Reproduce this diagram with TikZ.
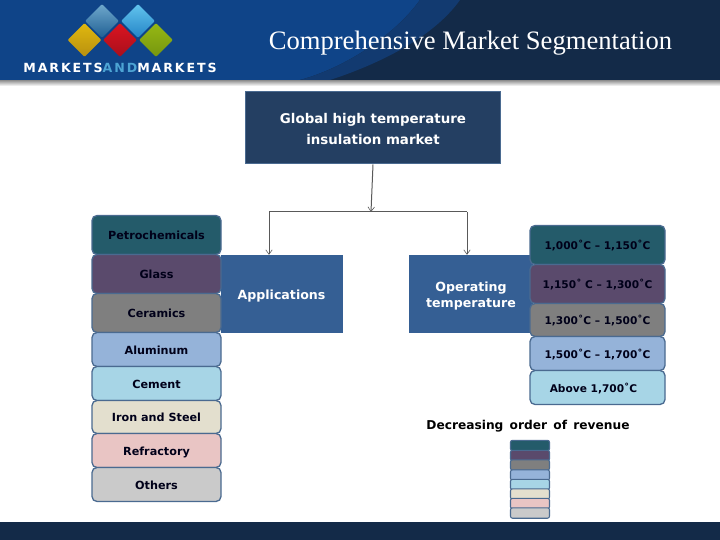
\documentclass[tikz,border=0pt]{standalone}
\usepackage{fontspec}
\setsansfont{DejaVu Sans}
\setmainfont{Liberation Serif}
\usetikzlibrary{arrows.meta,shapes.geometric}
\definecolor{hblue}{HTML}{0F4488}
\definecolor{hmid}{HTML}{123A70}
\definecolor{hdark}{HTML}{132A48}
\definecolor{navy}{HTML}{243F62}
\definecolor{midblue}{HTML}{355F94}
\definecolor{edge}{HTML}{4A6A90}
\definecolor{cA}{HTML}{245B6A}
\definecolor{cB}{HTML}{5A4A6C}
\definecolor{cC}{HTML}{7F7F7F}
\definecolor{cD}{HTML}{95B3D9}
\definecolor{cE}{HTML}{A7D5E6}
\definecolor{cF}{HTML}{E3DFCE}
\definecolor{cG}{HTML}{E9C5C4}
\definecolor{cH}{HTML}{CACACA}
\definecolor{gemAt}{HTML}{6FA8CC}
\definecolor{gemAb}{HTML}{1F5F93}
\definecolor{gemBt}{HTML}{62C4EE}
\definecolor{gemBb}{HTML}{2484C6}
\definecolor{gemCt}{HTML}{E0B80F}
\definecolor{gemCb}{HTML}{B8900F}
\definecolor{gemDt}{HTML}{DC1420}
\definecolor{gemDb}{HTML}{A80F1C}
\definecolor{gemEt}{HTML}{96B814}
\definecolor{gemEb}{HTML}{76960F}
\tikzset{
  seg/.style={draw=edge,line width=1.3pt,rounded corners=5pt,minimum width=129pt,inner sep=0pt,
    text height=11.6pt,text depth=2pt,
    font=\sffamily\bfseries\fontsize{11.2}{12}\selectfont,text=black!90!blue},
  temp/.style={seg,minimum width=135pt,text height=11.2pt,text depth=2pt,
    font=\sffamily\bfseries\fontsize{10.6}{11}\selectfont},
  head/.style={fill=midblue,inner sep=0pt,text=white,align=center,
    font=\sffamily\bfseries\fontsize{12.6}{15.5}\selectfont},
  conn/.style={draw=black!65,line width=1pt},
  arr/.style={conn,-{Straight Barb[length=4.5pt,width=6.5pt,line width=0.6pt]}},
  mini/.style={draw=edge,line width=1.1pt,rounded corners=2pt,minimum width=39pt,minimum height=10.4pt,inner sep=0pt},
  gem/.style={diamond,minimum width=34pt,minimum height=34pt,inner sep=0pt,rounded corners=1pt}
}
\begin{document}
\begin{tikzpicture}[x=1pt,y=-1pt]
\useasboundingbox (0,0) rectangle (720,540);
\fill[white] (0,0) rectangle (720,540);
% header
\shade[top color=black!45,bottom color=white] (0,80) rectangle (720,86);
\fill[hblue] (0,0) rectangle (720,80);
\fill[hdark] (720,0) -- (420,0) .. controls (395,35) and (345,68) .. (300,80) -- (720,80) -- cycle;
\fill[hmid] (420,0) .. controls (395,35) and (345,68) .. (300,80) -- (330,80) .. controls (385,62) and (435,35) .. (460,0) -- cycle;
% logo
\node[gem,top color=gemAt,bottom color=gemAb] (g1) at (102,21) {};
\node[gem,top color=gemBt,bottom color=gemBb] (g2) at (138,21) {};
\node[gem,top color=gemCt,bottom color=gemCb] (g3) at (84.5,40) {};
\node[gem,top color=gemDt,bottom color=gemDb] (g4) at (120,40) {};
\node[gem,top color=gemEt,bottom color=gemEb] (g5) at (156,40) {};
\node[inner sep=0pt,font=\sffamily\bfseries\fontsize{12.6}{12}\selectfont\addfontfeature{LetterSpace=15},text=white] (logo) at (120,68)
  {MARKETS\textcolor{gemBt!75!hblue}{AND}MARKETS};
\node[inner sep=0pt,text=white,font=\rmfamily\fontsize{26.6}{28}\selectfont] (title) at (470.5,43.5) {Comprehensive Market Segmentation};
% footer
\fill[hdark] (0,522) rectangle (720,540);
% main
\node[fill=navy,draw=edge,line width=1pt,inner sep=0pt,minimum width=255pt,minimum height=72pt,text=white,align=center,
  font=\sffamily\bfseries\fontsize{13.4}{21}\selectfont] (root) at (373,128) {\rule{0pt}{12pt}Global high temperature\\insulation market};
\node[head,minimum width=122pt,minimum height=78pt,text height=12pt,text depth=2pt] (apps) at (281.5,294) {Applications};
\node[head,minimum width=124pt,minimum height=78pt] (oper) at (471,294) {\rule{0pt}{14pt}Operating\\temperature};
\coordinate (jct) at (371,212);
\coordinate (jl) at (269,212);
\coordinate (jr) at (467,212);
\draw[arr] (root.south) -- (jct);
\draw[conn] (jl) -- (jr);
\draw[arr] (jl) -- (apps.north -| jl);
\draw[arr] (jr) -- (oper.north -| jr);
% left column
\node[seg,fill=cA,minimum height=39pt] (p1) at (156.5,235) {Petrochemicals};
\node[seg,fill=cB,minimum height=39pt] (p2) at (156.5,274) {Glass};
\node[seg,fill=cC,minimum height=39pt] (p3) at (156.5,313) {Ceramics};
\node[seg,fill=cD,minimum height=34pt] (p4) at (156.5,349.5) {Aluminum};
\node[seg,fill=cE,minimum height=34pt] (p5) at (156.5,383.5) {Cement};
\node[seg,fill=cF,minimum height=33pt] (p6) at (156.5,417) {Iron and Steel};
\node[seg,fill=cG,minimum height=34pt] (p7) at (156.5,450.5) {Refractory};
\node[seg,fill=cH,minimum height=34pt] (p8) at (156.5,484.5) {Others};
% right column
\node[temp,fill=cA,minimum height=39pt] (t1) at (597.5,245) {1,000˚C -- 1,150˚C};
\node[temp,fill=cB,minimum height=39pt] (t2) at (597.5,284) {1,150˚ C -- 1,300˚C};
\node[temp,fill=cC,minimum height=33pt] (t3) at (597.5,320) {1,300˚C -- 1,500˚C};
\node[temp,fill=cD,minimum height=34pt] (t4) at (597.5,353.5) {1,500˚C -- 1,700˚C};
\node[temp,fill=cE,minimum height=34pt] (t5) at (597.5,387.5) {\hspace{-8pt}Above 1,700˚C};
% legend
\node[inner sep=0pt,text=black,font=\sffamily\bfseries\fontsize{12.2}{12}\selectfont] (dec) at (528,426) {Decreasing\, order\, of\, revenue};
\node[mini,fill=cA] (m1) at (530,445.5) {};
\node[mini,fill=cB] (m2) at (530,455.5) {};
\node[mini,fill=cC] (m3) at (530,465) {};
\node[mini,fill=cD] (m4) at (530,475) {};
\node[mini,fill=cE] (m5) at (530,484.5) {};
\node[mini,fill=cF] (m6) at (530,494) {};
\node[mini,fill=cG] (m7) at (530,503.5) {};
\node[mini,fill=cH] (m8) at (530,513) {};
\end{tikzpicture}
\end{document}
